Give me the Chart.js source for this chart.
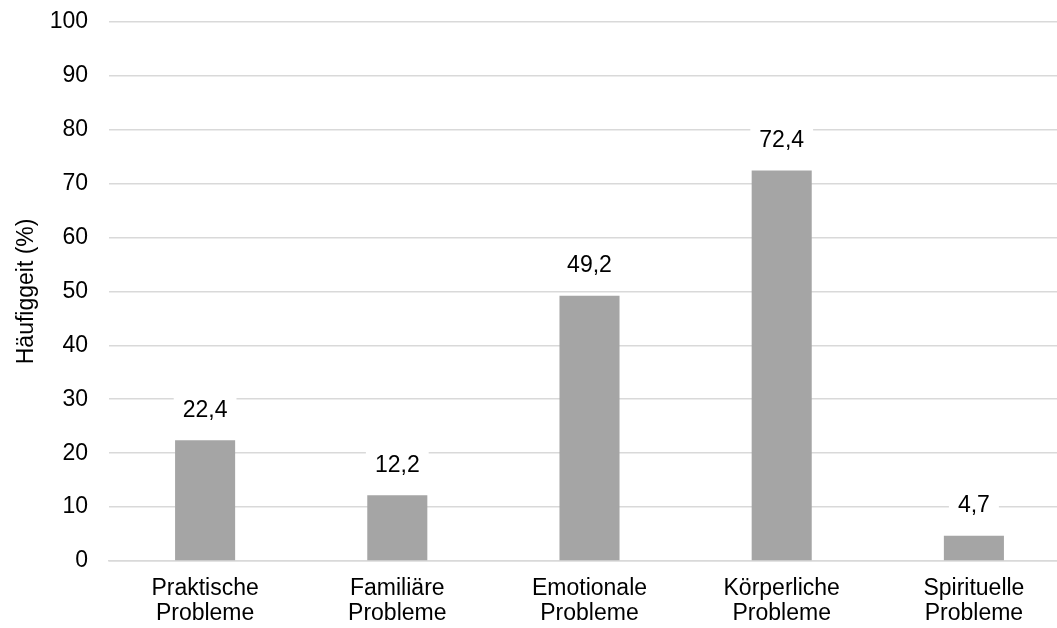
<!DOCTYPE html>
<html lang="de">
<head>
<meta charset="utf-8">
<title>Häufiggeit der Probleme</title>
<script src="https://cdn.jsdelivr.net/npm/chart.js@4/dist/chart.umd.min.js"></script>
<style>
  html, body { margin: 0; padding: 0; background: #ffffff; overflow: hidden; }
  #wrap { position: absolute; left: 0; top: -13px; width: 1070px; height: 641px; }
</style>
</head>
<body>
<div id="wrap"><canvas id="chart" width="1070" height="641"></canvas></div>
<script>
// Kategorien (zweizeilige Beschriftung) und Häufigkeiten in Prozent
const categories = [
  ['Praktische', 'Probleme'],
  ['Familiäre', 'Probleme'],
  ['Emotionale', 'Probleme'],
  ['Körperliche', 'Probleme'],
  ['Spirituelle', 'Probleme']
];
const frequencies = [22.4, 12.2, 49.2, 72.4, 4.7];
const yTicks = [0, 10, 20, 30, 40, 50, 60, 70, 80, 90, 100];
const yTitle = 'Häufiggeit (%)';

const FONT = "'Liberation Sans', Arial, sans-serif";

// Wertbeschriftung über jedem Balken, mit weißem Hintergrund
const valueLabels = {
  id: 'valueLabels',
  afterDatasetsDraw(chart) {
    const ctx = chart.ctx;
    const meta = chart.getDatasetMeta(0);
    ctx.save();
    ctx.font = '23px ' + FONT;
    ctx.textAlign = 'center';
    ctx.textBaseline = 'middle';
    meta.data.forEach((bar, i) => {
      const text = frequencies[i].toFixed(1).replace('.', ',');
      const w = ctx.measureText(text).width + 18;
      const cy = bar.y - 30;
      ctx.fillStyle = '#ffffff';
      ctx.fillRect(bar.x - w / 2, cy - 19, w, 36);
      ctx.fillStyle = '#000000';
      ctx.fillText(text, bar.x, cy);
    });
    ctx.restore();
  }
};

new Chart(document.getElementById('chart'), {
  type: 'bar',
  data: {
    labels: categories,
    datasets: [{
      data: frequencies,
      backgroundColor: '#a5a5a5',
      borderWidth: 0,
      barPercentage: 0.3125,
      categoryPercentage: 1.0
    }]
  },
  options: {
    responsive: false,
    animation: false,
    devicePixelRatio: 1,
    layout: { padding: { top: 0, right: 0, bottom: 0, left: 0 } },
    plugins: {
      legend: { display: false },
      tooltip: { enabled: false }
    },
    scales: {
      x: {
        afterFit(axis) { axis.height = 67; },
        grid: { display: false, drawTicks: false },
        border: { display: true, color: '#d9d9d9', width: 1.5 },
        ticks: {
          color: '#000000',
          font: { family: FONT, size: 23, lineHeight: 1.1 },
          padding: 15,
          maxRotation: 0,
          autoSkip: false
        }
      },
      y: {
        min: 0,
        max: 100,
        afterBuildTicks(axis) { axis.ticks = yTicks.map(v => ({ value: v })); },
        afterFit(axis) { axis.width = 109; },
        grid: { color: '#d9d9d9', lineWidth: 1.5, drawTicks: false },
        border: { display: false },
        ticks: {
          color: '#000000',
          font: { family: FONT, size: 23 },
          padding: 21
        },
        title: {
          display: true,
          text: yTitle,
          color: '#000000',
          font: { family: FONT, size: 23 },
          padding: { top: 13, bottom: 4 }
        }
      }
    }
  },
  plugins: [valueLabels]
});
</script>
</body>
</html>
